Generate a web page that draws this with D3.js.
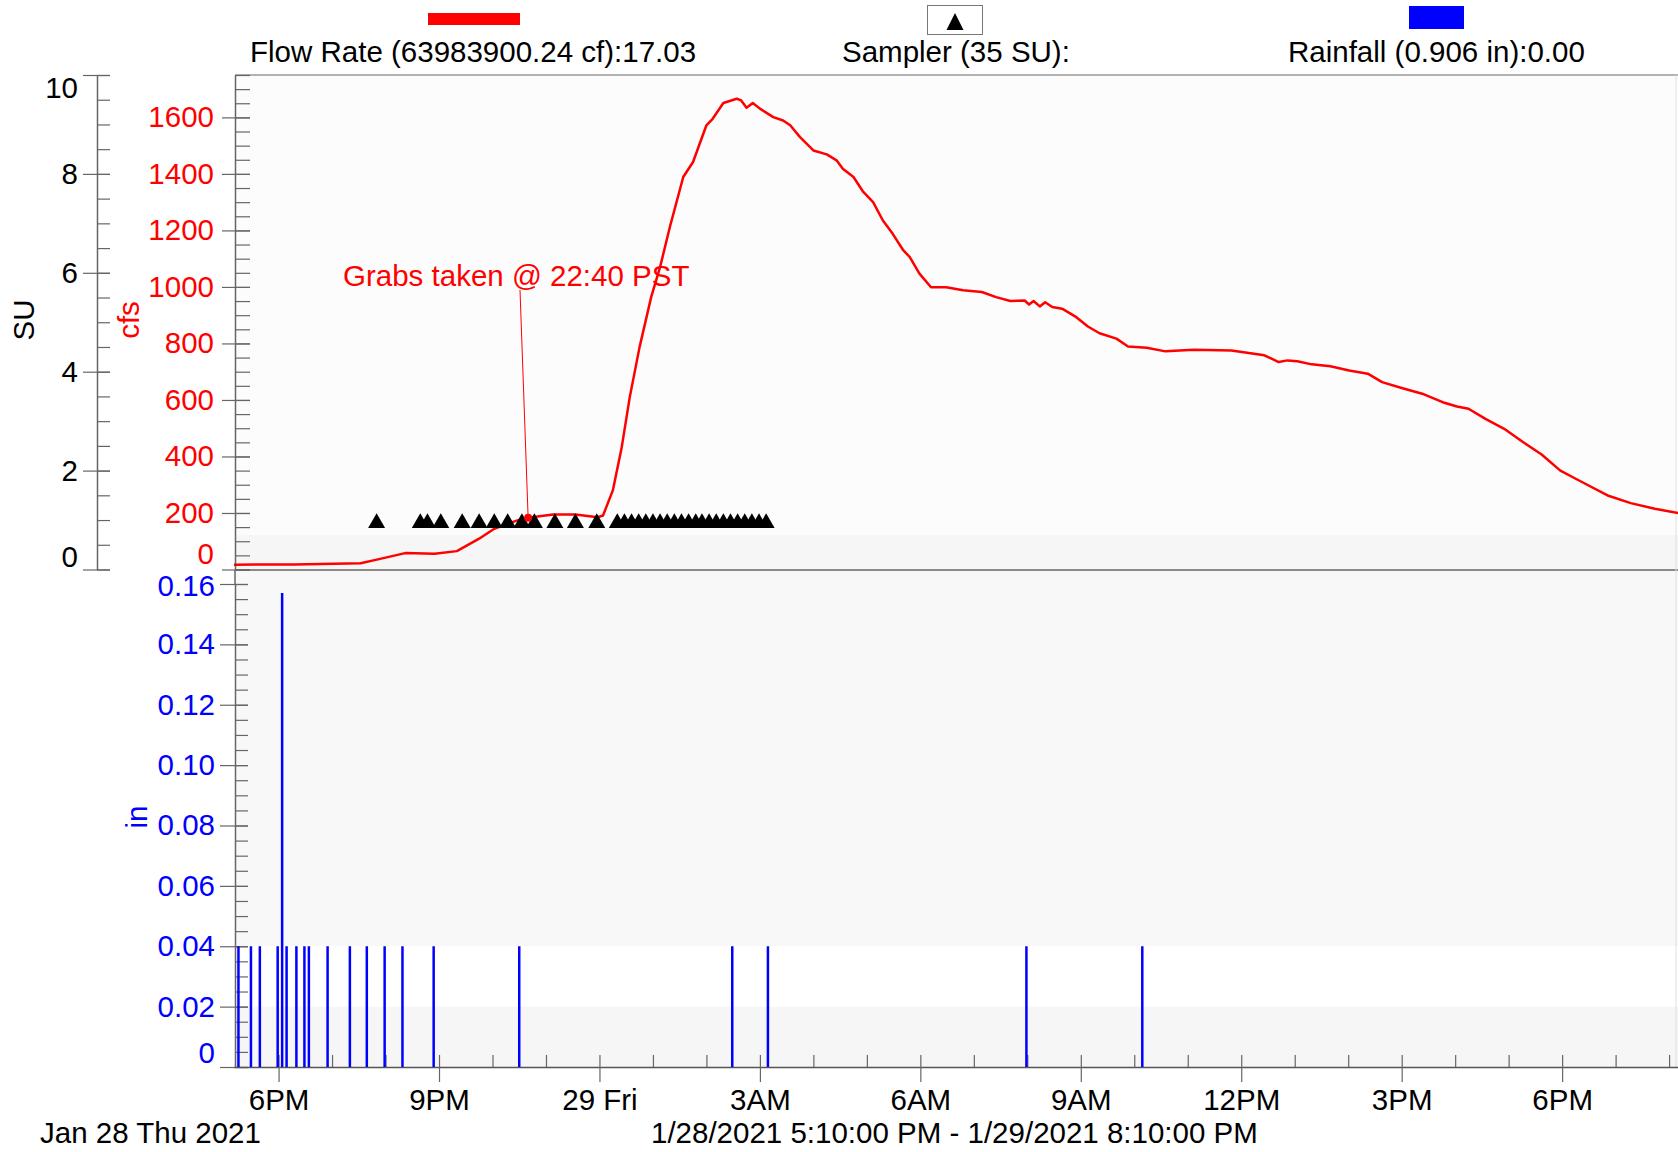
<!DOCTYPE html>
<html>
<head>
<meta charset="utf-8">
<script src="https://cdn.jsdelivr.net/npm/d3@7"></script>
<style>
  html, body { margin: 0; padding: 0; background: #ffffff; }
  svg { display: block; }
  text { font-family: "Liberation Sans", Arial, sans-serif; }
</style>
</head>
<body>
<svg id="chart" width="1678" height="1152"></svg>
<script>
// ---------------- DATA ----------------
const flowTime = [
  "2021-01-28 17:10","2021-01-28 18:17","2021-01-28 19:32","2021-01-28 19:49","2021-01-28 20:22",
  "2021-01-28 20:55","2021-01-28 21:20","2021-01-28 21:45","2021-01-28 22:02","2021-01-28 22:27",
  "2021-01-28 22:40","2021-01-28 23:08","2021-01-28 23:33","2021-01-28 23:58","2021-01-29 00:04",
  "2021-01-29 00:15","2021-01-29 00:25","2021-01-29 00:34","2021-01-29 00:45","2021-01-29 00:58",
  "2021-01-29 01:08","2021-01-29 01:19","2021-01-29 01:34","2021-01-29 01:45","2021-01-29 02:00",
  "2021-01-29 02:07","2021-01-29 02:19","2021-01-29 02:34","2021-01-29 02:39","2021-01-29 02:45",
  "2021-01-29 02:52","2021-01-29 03:00","2021-01-29 03:15","2021-01-29 03:26","2021-01-29 03:34",
  "2021-01-29 03:45","2021-01-29 04:00","2021-01-29 04:15","2021-01-29 04:26","2021-01-29 04:33",
  "2021-01-29 04:45","2021-01-29 04:56","2021-01-29 05:07","2021-01-29 05:18","2021-01-29 05:29",
  "2021-01-29 05:41","2021-01-29 05:48","2021-01-29 05:59","2021-01-29 06:12","2021-01-29 06:29",
  "2021-01-29 06:48","2021-01-29 07:09","2021-01-29 07:25","2021-01-29 07:41","2021-01-29 07:57",
  "2021-01-29 08:02","2021-01-29 08:07","2021-01-29 08:14","2021-01-29 08:20","2021-01-29 08:28",
  "2021-01-29 08:39","2021-01-29 08:55","2021-01-29 09:08","2021-01-29 09:21","2021-01-29 09:40",
  "2021-01-29 09:53","2021-01-29 10:14","2021-01-29 10:35","2021-01-29 11:07","2021-01-29 11:49",
  "2021-01-29 12:26","2021-01-29 12:42","2021-01-29 12:52","2021-01-29 13:03","2021-01-29 13:19",
  "2021-01-29 13:40","2021-01-29 14:01","2021-01-29 14:22","2021-01-29 14:38","2021-01-29 14:59",
  "2021-01-29 15:25","2021-01-29 15:46","2021-01-29 16:02","2021-01-29 16:15","2021-01-29 16:34",
  "2021-01-29 16:55","2021-01-29 17:16","2021-01-29 17:37","2021-01-29 17:58","2021-01-29 18:19",
  "2021-01-29 18:51","2021-01-29 19:17","2021-01-29 19:44","2021-01-29 20:10"
];
const flowCfs = [
  17, 18, 22, 34, 58,
  56, 65, 109, 144, 173,
  183, 195, 195, 185, 191,
  280, 433, 610, 787, 964,
  1070, 1212, 1389, 1442, 1572,
  1595, 1651, 1666, 1660, 1634,
  1651, 1631, 1601, 1589, 1572,
  1530, 1483, 1469, 1448, 1418,
  1389, 1336, 1300, 1235, 1188,
  1129, 1106, 1047, 999, 999,
  988, 982, 964, 950, 952,
  938, 950, 931, 946, 929,
  923, 893, 860, 836, 817,
  789, 785, 772, 778, 775,
  758, 734, 740, 737, 726,
  719, 704, 693, 663, 643,
  620, 592, 577, 569, 533,
  498, 451, 407, 350, 315,
  262, 235, 215, 200
];

const sampleTime = [
  "2021-01-28 19:50","2021-01-28 20:39","2021-01-28 20:47","2021-01-28 21:02","2021-01-28 21:26",
  "2021-01-28 21:45","2021-01-28 22:02","2021-01-28 22:17","2021-01-28 22:33","2021-01-28 22:47",
  "2021-01-28 23:10","2021-01-28 23:33","2021-01-28 23:57",
  "2021-01-29 00:20","2021-01-29 00:28","2021-01-29 00:36","2021-01-29 00:44","2021-01-29 00:52",
  "2021-01-29 01:00","2021-01-29 01:08","2021-01-29 01:16","2021-01-29 01:24","2021-01-29 01:32",
  "2021-01-29 01:40","2021-01-29 01:48","2021-01-29 01:55","2021-01-29 02:03","2021-01-29 02:11",
  "2021-01-29 02:19","2021-01-29 02:27","2021-01-29 02:35","2021-01-29 02:43","2021-01-29 02:51",
  "2021-01-29 02:59","2021-01-29 03:07"
];
const sampleSU = [1,1,1,1,1, 1,1,1,1,1, 1,1,1, 1,1,1,1,1, 1,1,1,1,1, 1,1,1,1,1, 1,1,1,1,1, 1,1];

const rainTime = [
  "2021-01-28 17:15","2021-01-28 17:29","2021-01-28 17:39","2021-01-28 17:59","2021-01-28 18:04",
  "2021-01-28 18:09","2021-01-28 18:20","2021-01-28 18:29","2021-01-28 18:34","2021-01-28 18:55",
  "2021-01-28 19:20","2021-01-28 19:39","2021-01-28 19:59","2021-01-28 20:19","2021-01-28 20:54",
  "2021-01-28 22:30","2021-01-29 02:29","2021-01-29 03:09","2021-01-29 07:59","2021-01-29 10:09"
];
const rainIn = [
  0.04, 0.04, 0.04, 0.04, 0.157,
  0.04, 0.04, 0.04, 0.04, 0.04,
  0.04, 0.04, 0.04, 0.04, 0.04,
  0.04, 0.04, 0.04, 0.04, 0.04
];

const suTicks = [0, 2, 4, 6, 8, 10];
const cfsTicks = [0, 200, 400, 600, 800, 1000, 1200, 1400, 1600];
const inTicks = [0, 0.02, 0.04, 0.06, 0.08, 0.10, 0.12, 0.14, 0.16];
const inTickLabels = ["0", "0.02", "0.04", "0.06", "0.08", "0.10", "0.12", "0.14", "0.16"];
const timeTicks = ["2021-01-28 18:00","2021-01-28 21:00","2021-01-29 00:00","2021-01-29 03:00",
  "2021-01-29 06:00","2021-01-29 09:00","2021-01-29 12:00","2021-01-29 15:00","2021-01-29 18:00"];
const timeTickLabels = ["6PM", "9PM", "29 Fri", "3AM", "6AM", "9AM", "12PM", "3PM", "6PM"];
const timeStart = "2021-01-28 17:10";
const timeEnd = "2021-01-29 20:10";

const legendLabels = ["Flow Rate (63983900.24 cf):17.03", "Sampler (35 SU):", "Rainfall (0.906 in):0.00"];
const annotationText = "Grabs taken @ 22:40 PST";
const annotationTime = "2021-01-28 22:40";
const annotationCfs = 183;
const dateLabel = "Jan 28 Thu 2021";
const rangeLabel = "1/28/2021 5:10:00 PM - 1/29/2021 8:10:00 PM";

// ---------------- SETUP ----------------
const parse = d3.timeParse("%Y-%m-%d %H:%M");
const RED = "#ff0000", BLUE = "#0000ff", FS = "29.5px";
const svg = d3.select("#chart");

const plotL = 235, plotR = 1678, topY = 75, midY = 570, botY = 1067;

const x = d3.scaleTime().domain([parse(timeStart), parse(timeEnd)]).range([234, 1678]);
const yCfs = d3.scaleLinear().domain([0, 1750]).range([569.5, 75]);
const ySU = d3.scaleLinear().domain([0, 10]).range([569.5, 75]);
const yIn = d3.scaleLinear().domain([0, 0.16]).range([botY, 584]);

// backgrounds
svg.append("rect").attr("x", plotL).attr("y", topY).attr("width", plotR - plotL).attr("height", midY - topY).attr("fill", "#fcfcfc");
svg.append("rect").attr("x", plotL).attr("y", yCfs(122)).attr("width", plotR - plotL).attr("height", midY - yCfs(122)).attr("fill", "#f6f6f6");
svg.append("rect").attr("x", plotL).attr("y", midY).attr("width", plotR - plotL).attr("height", yIn(0.04) - midY).attr("fill", "#f8f8f8");
svg.append("rect").attr("x", plotL).attr("y", yIn(0.04)).attr("width", plotR - plotL).attr("height", yIn(0.02) - yIn(0.04)).attr("fill", "#ffffff");
svg.append("rect").attr("x", plotL).attr("y", yIn(0.02)).attr("width", plotR - plotL).attr("height", botY - yIn(0.02)).attr("fill", "#f6f6f6");

// frame lines
svg.append("line").attr("x1", plotL).attr("x2", plotR).attr("y1", topY).attr("y2", topY).attr("stroke", "#9a9a9a").attr("stroke-width", 1.5);
svg.append("line").attr("x1", plotL).attr("x2", plotR).attr("y1", midY).attr("y2", midY).attr("stroke", "#8a8a8a").attr("stroke-width", 2);
svg.append("line").attr("x1", plotR - 2).attr("x2", plotR - 2).attr("y1", topY).attr("y2", botY).attr("stroke", "#e0e0e0").attr("stroke-width", 1);

// ---------------- AXES ----------------
function leftAxis(xPos, scale, major, minor, fmt, color, leftLen, rightLen, minorLen, pad) {
  const g = svg.append("g").attr("transform", `translate(${xPos},0)`);
  g.call(d3.axisLeft(scale).tickValues(minor).tickFormat("").tickSize(-minorLen).tickSizeOuter(0));
  g.select(".domain").remove();
  g.selectAll(".tick line").attr("stroke", "#666").attr("stroke-width", 1.2);
  const gm = svg.append("g").attr("transform", `translate(${xPos},0)`);
  gm.call(d3.axisLeft(scale).tickValues(major).tickFormat(fmt).tickSize(leftLen).tickPadding(pad).tickSizeOuter(0));
  gm.select(".domain").attr("stroke", "#666").attr("stroke-width", 1.5);
  gm.selectAll(".tick line").attr("x1", rightLen).attr("stroke", "#666").attr("stroke-width", 1.2);
  gm.selectAll(".tick text").attr("fill", color).style("font-size", FS)
    .style("font-family", '"Liberation Sans", Arial, sans-serif');
  return gm;
}

// SU axis
const suG = leftAxis(97, ySU, suTicks, d3.range(0, 10.01, 0.5), d3.format("d"), "#000", 14, 13, 13, 5);
suG.selectAll(".tick text").filter(d => d === 10).attr("dy", "0.75em");
suG.selectAll(".tick text").filter(d => d === 0).attr("dy", "-0.1em");

// cfs axis
const cfsG = leftAxis(plotL, yCfs, cfsTicks, d3.range(0, 1751, 50), d3.format("d"), RED, 13, 15, 15, 8);
cfsG.selectAll(".tick text").filter(d => d === 0).attr("dy", "-0.2em");

// in axis
const inG = leftAxis(plotL, yIn, inTicks, d3.range(0, 0.1651, 0.005).filter(v => v <= 0.1601), (d, i) => inTickLabels[i], BLUE, 15, 13, 13, 5);
inG.selectAll(".tick text").filter(d => d === 0).attr("dy", "-0.15em");
inG.selectAll(".tick text").filter(d => d === 0.16).attr("dy", "0.4em");
svg.append("line").attr("x1", plotL).attr("x2", plotL).attr("y1", midY).attr("y2", yIn(0.16)).attr("stroke", "#666").attr("stroke-width", 1.5);

// axis titles
svg.append("text").attr("transform", "translate(24,320) rotate(-90)").attr("text-anchor", "middle").attr("dy", "0.35em")
  .style("font-size", FS).attr("fill", "#000").text("SU");
svg.append("text").attr("transform", "translate(129,320) rotate(-90)").attr("text-anchor", "middle").attr("dy", "0.35em")
  .style("font-size", FS).attr("fill", RED).text("cfs");
svg.append("text").attr("transform", "translate(136,817) rotate(-90)").attr("text-anchor", "middle").attr("dy", "0.36em")
  .style("font-size", FS).attr("fill", BLUE).text("in");

// bottom time axis
const majorTimes = timeTicks.map(parse);
const minorTimes = d3.timeHour.range(parse("2021-01-28 18:00"), parse("2021-01-29 20:01"))
  .filter(t => !majorTimes.some(m => +m === +t));
const gMinor = svg.append("g").attr("transform", `translate(0,${botY})`);
gMinor.call(d3.axisBottom(x).tickValues(minorTimes).tickFormat("").tickSize(-12).tickSizeOuter(0));
gMinor.select(".domain").remove();
gMinor.selectAll(".tick line").attr("stroke", "#666").attr("stroke-width", 1.2);

const gX = svg.append("g").attr("transform", `translate(0,${botY})`);
gX.call(d3.axisBottom(x).tickValues(majorTimes).tickFormat((d, i) => timeTickLabels[i]).tickSize(15).tickPadding(7).tickSizeOuter(0));
gX.select(".domain").attr("stroke", "#555").attr("stroke-width", 1.5);
gX.selectAll(".tick line").attr("y1", -12).attr("stroke", "#666").attr("stroke-width", 1.2);
gX.selectAll(".tick text").attr("fill", "#000").style("font-size", FS)
  .style("font-family", '"Liberation Sans", Arial, sans-serif');

svg.append("text").attr("x", 40).attr("y", 1143).style("font-size", FS).attr("fill", "#000").text(dateLabel);
svg.append("text").attr("x", 651).attr("y", 1143).style("font-size", FS).attr("fill", "#000").text(rangeLabel);

// ---------------- MARKS ----------------
// rainfall bars
svg.append("g").selectAll("line").data(rainTime.map((t, i) => ({ t: parse(t), v: rainIn[i] })))
  .join("line")
  .attr("x1", d => x(d.t)).attr("x2", d => x(d.t))
  .attr("y1", yIn(0)).attr("y2", d => yIn(d.v))
  .attr("stroke", BLUE).attr("stroke-width", 2.5);

// flow line
const flowData = flowTime.map((t, i) => ({ t: parse(t), v: flowCfs[i] }));
svg.append("path").datum(flowData)
  .attr("d", d3.line().x(d => x(d.t)).y(d => yCfs(d.v)))
  .attr("fill", "none").attr("stroke", RED).attr("stroke-width", 2.5).attr("stroke-linejoin", "round");

// sampler triangles
const tri = d3.symbol().type(d3.symbolTriangle).size(125);
svg.append("g").selectAll("path").data(sampleTime.map((t, i) => ({ t: parse(t), v: sampleSU[i] })))
  .join("path")
  .attr("d", tri)
  .attr("transform", d => `translate(${x(d.t)},${ySU(d.v) + 3})`)
  .attr("fill", "#000");

// annotation
const ax = x(parse(annotationTime)), ay = yCfs(annotationCfs);
svg.append("line").attr("x1", 520).attr("y1", 290).attr("x2", ax).attr("y2", ay).attr("stroke", RED).attr("stroke-width", 1);
svg.append("circle").attr("cx", ax).attr("cy", ay).attr("r", 4).attr("fill", RED);
svg.append("text").attr("x", 343).attr("y", 286).style("font-size", FS).attr("fill", RED).text(annotationText);

// ---------------- LEGEND ----------------
svg.append("rect").attr("x", 428).attr("y", 13).attr("width", 92).attr("height", 12).attr("fill", RED);
svg.append("text").attr("x", 250).attr("y", 62).style("font-size", FS).attr("fill", "#000").text(legendLabels[0]);

svg.append("rect").attr("x", 927.5).attr("y", 5.5).attr("width", 55).attr("height", 29).attr("fill", "#fff").attr("stroke", "#777").attr("stroke-width", 1);
svg.append("path").attr("d", d3.line()([[955, 13], [946.5, 30], [963.5, 30]]) + "Z").attr("fill", "#000");
svg.append("text").attr("x", 842).attr("y", 62).style("font-size", FS).attr("fill", "#000").text(legendLabels[1]);

svg.append("rect").attr("x", 1409).attr("y", 6).attr("width", 55).attr("height", 23).attr("fill", BLUE);
svg.append("text").attr("x", 1288).attr("y", 62).style("font-size", FS).attr("fill", "#000").text(legendLabels[2]);
</script>
</body>
</html>
